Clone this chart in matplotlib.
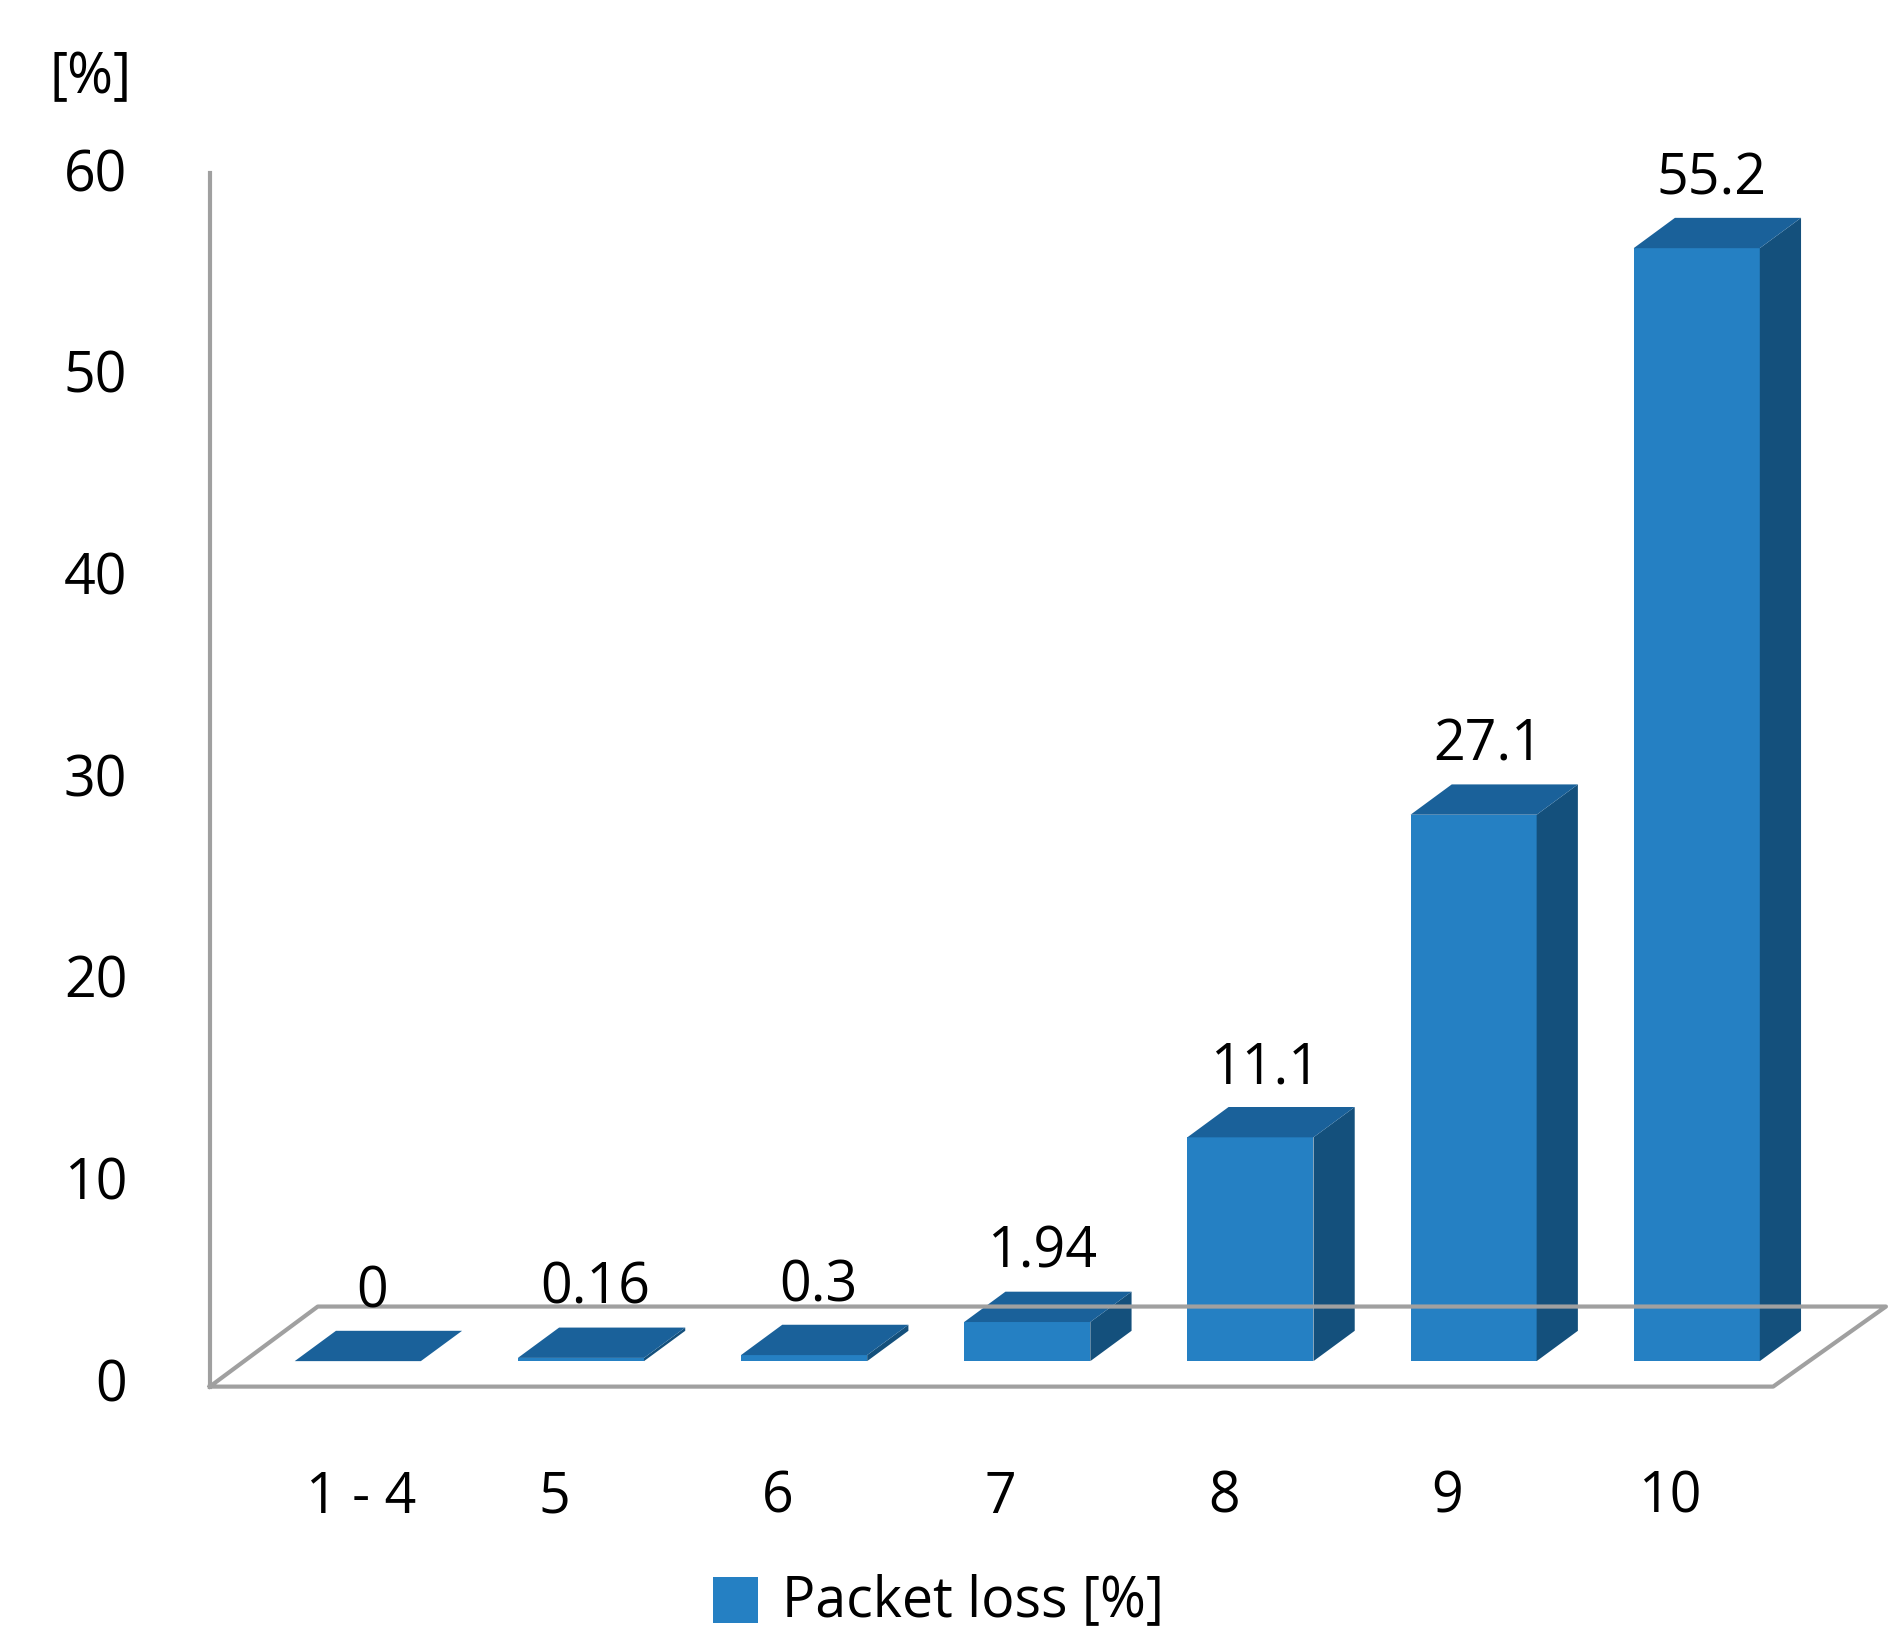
import matplotlib
matplotlib.use("Agg")
import matplotlib.pyplot as plt
from matplotlib.patches import Polygon, Rectangle

categories = ["1-4", "5", "6", "7", "8", "9", "10"]
loss = [0, 0.16, 0.3, 1.94, 11.1, 27.1, 55.2]
value_labels = ["0", "0.16", "0.3", "1.94", "11.1", "27.1", "55.2"]
yticks = [0, 10, 20, 30, 40, 50, 60]

FRONT = "#2580C3"
SIDE = "#14507C"
TOP = "#1A619A"
GRID = "#A0A0A0"

# layout in a 1560 x 1356 canvas (scaled to output)
W, H = 1560, 1356
PX_PER_UNIT = 16.62
Y0_AXIS = 1143      # y of 0 on the axis
Y0_BAR = 1122       # bar base line
DX, DY = 34, -25    # depth offset
X_FIRST, STEP, BW = 243, 184, 104


def ypx(v, base):
    return base - v * PX_PER_UNIT


fig = plt.figure(figsize=(18.92, 16.45), dpi=100)
ax = fig.add_axes([0, 0, 1, 1])
ax.set_xlim(0, W)
ax.set_ylim(H, 0)
ax.axis("off")

# floor and axis
ax.plot([173, 173], [143, 1143], color=GRID, lw=3)
ax.plot([173, 1462, 1555, 262, 173], [1143, 1143, 1077, 1077, 1143], color=GRID, lw=3)

for t in yticks:
    ax.text(105, ypx(t, Y0_AXIS), str(t), fontsize=40, ha="right", va="center",
            family="Open Sans")
ax.text(75, 65, "[%]", fontsize=40, ha="center", va="center", family="Open Sans")

for i, (cat, v, lab) in enumerate(zip(categories, loss, value_labels)):
    x0 = X_FIRST + i * STEP
    x1 = x0 + BW
    yb = Y0_BAR
    yt = ypx(v, Y0_BAR)
    ax.add_patch(Rectangle((x0, yt), BW, yb - yt, facecolor=FRONT, edgecolor="none"))
    ax.add_patch(Polygon([(x1, yb), (x1 + DX, yb + DY), (x1 + DX, yt + DY), (x1, yt)],
                         facecolor=SIDE, edgecolor="none"))
    ax.add_patch(Polygon([(x0, yt), (x1, yt), (x1 + DX, yt + DY), (x0 + DX, yt + DY)],
                         facecolor=TOP, edgecolor="none"))
    ax.text(x0 + BW / 2 + DX / 2 - 5, yt + DY - 8, lab, fontsize=40, ha="center",
            va="bottom", family="Open Sans")
    ax.text(x0 + BW / 2 - 22 + (25 if i == 0 else 0), 1235, cat.replace("-", " - "),
            fontsize=40, ha="center", va="center", family="Open Sans")

# legend
ax.add_patch(Rectangle((588, 1300), 37, 38, facecolor=FRONT, edgecolor="none"))
ax.text(645, 1320, "Packet loss [%]", fontsize=40, ha="left", va="center",
        family="Open Sans")

fig.savefig("out.png", dpi=100, facecolor="white")
